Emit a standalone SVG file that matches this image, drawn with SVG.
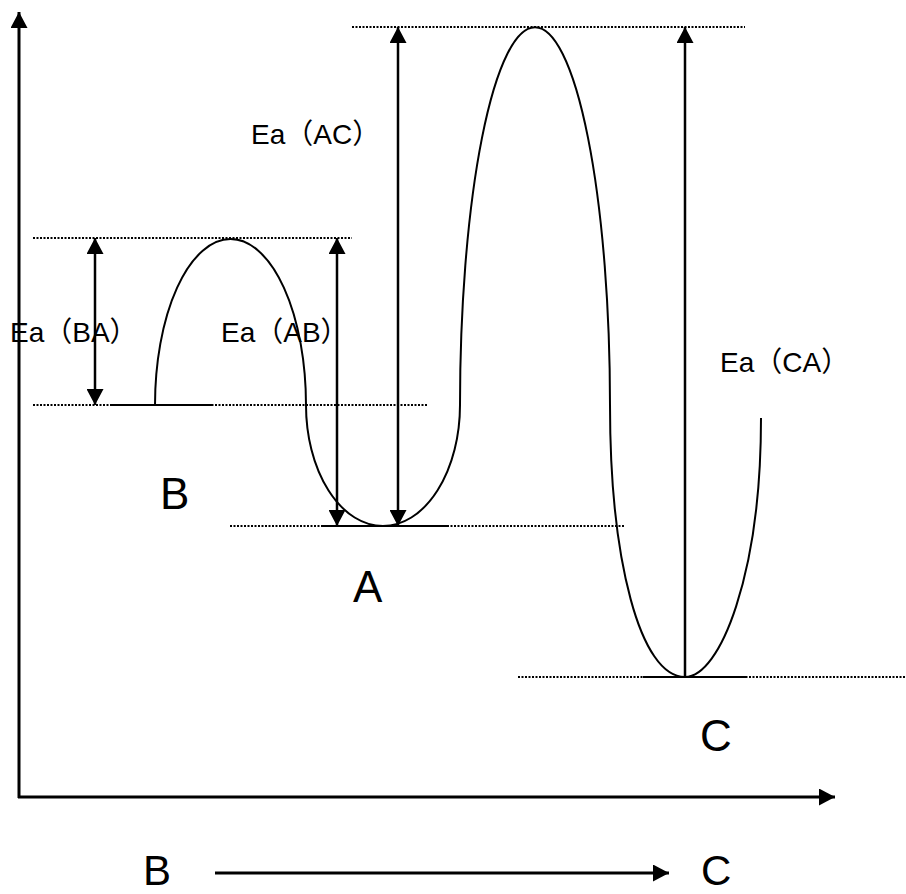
<svg xmlns="http://www.w3.org/2000/svg" width="906" height="894" viewBox="0 0 906 894">
<style>
.dot{stroke:#000;stroke-width:2;stroke-dasharray:2 1.5;fill:none}
.solid{stroke:#000;stroke-width:2;fill:none}
.curve{stroke:#000;stroke-width:2;fill:none}
.arr{stroke:#000;stroke-width:2.5;fill:none}
.axis{stroke:#000;stroke-width:3;fill:none}
.ea{font-family:"Liberation Sans","Noto Sans CJK JP",sans-serif;font-size:28px;fill:#000}
.big{font-family:"Liberation Sans","Noto Sans CJK JP",sans-serif;font-size:44px;fill:#000}
.bot{font-family:"Liberation Sans","Noto Sans CJK JP",sans-serif;font-size:42px;fill:#000}
</style>
<defs>
<marker id="ah" viewBox="0 0 16 17" refX="16" refY="8.5" markerWidth="16" markerHeight="17" markerUnits="userSpaceOnUse" orient="auto-start-reverse">
<path d="M0,0 L16,8.5 L0,17 Z" fill="#000"/>
</marker>
</defs>
<rect width="906" height="894" fill="#fff"/>
<g id="axes">
<line class="axis" x1="19" y1="798" x2="19" y2="12" marker-end="url(#ah)"/>
<line class="axis" x1="18" y1="797" x2="835" y2="797" marker-end="url(#ah)"/>
</g>
<g id="levels">
<line class="dot" x1="352" y1="27" x2="745" y2="27"/>
<line class="dot" x1="33" y1="238" x2="352" y2="238"/>
<line class="dot" x1="33" y1="405" x2="428" y2="405"/>
<line class="solid" x1="110" y1="405" x2="213" y2="405"/>
<line class="dot" x1="230" y1="526" x2="625" y2="526"/>
<line class="solid" x1="322" y1="526" x2="447" y2="526"/>
<line class="dot" x1="518" y1="677" x2="906" y2="677"/>
<line class="solid" x1="643" y1="677" x2="747" y2="677"/>
</g>
<g id="curve">
<path class="curve" d="M155,405 A75.5,166 0 0 1 306,405 A77,121 0 0 0 460,405 A75,378 0 0 1 610,405 C610,560 640,677 685,677 C720,677 761,575 761,418"/>
</g>
<g id="connectors">
<line class="arr" x1="95" y1="238" x2="95" y2="405" marker-start="url(#ah)" marker-end="url(#ah)"/>
<line class="arr" x1="337" y1="238" x2="337" y2="526" marker-start="url(#ah)" marker-end="url(#ah)"/>
<line class="arr" x1="398" y1="27" x2="398" y2="526" marker-start="url(#ah)" marker-end="url(#ah)"/>
<line class="arr" x1="685" y1="677" x2="685" y2="27" marker-end="url(#ah)"/>
<line class="axis" x1="215" y1="873" x2="669" y2="873" marker-end="url(#ah)"/>
</g>
<g id="labels">
<text class="ea" x="251" y="144">Ea（AC）</text>
<text class="ea" x="10" y="342">Ea（BA）</text>
<text class="ea" x="221" y="342">Ea（AB）</text>
<text class="ea" x="720" y="372">Ea（CA）</text>
<text id="node-B" class="big" x="160" y="509">B</text>
<text id="node-A" class="big" x="353" y="602">A</text>
<text id="node-C" class="big" x="700" y="751">C</text>
<text class="bot" x="143" y="885">B</text>
<text class="bot" x="701" y="885">C</text>
</g>
</svg>
